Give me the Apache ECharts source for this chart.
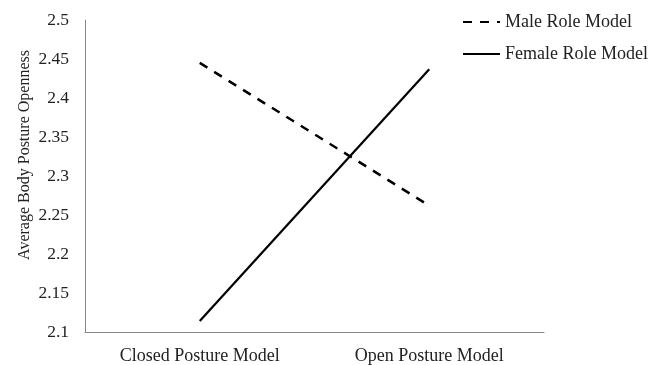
<!DOCTYPE html>
<html><head><meta charset="utf-8">
<script src="https://cdn.jsdelivr.net/npm/echarts@6/dist/echarts.min.js"></script>
<style>html,body{margin:0;padding:0;background:#fff}#c{width:660px;height:365px}</style>
</head><body><div id="c"></div>
<script>
const categories = ['Closed Posture Model', 'Open Posture Model'];
const maleValues = [2.445, 2.262];
const femaleValues = [2.114, 2.437];
const seriesNames = ['Male Role Model', 'Female Role Model'];
const yAxisName = 'Average Body Posture Openness';

const font = 'Liberation Serif, Times New Roman, serif';
const chart = echarts.init(document.getElementById('c'));
chart.setOption({
  animation: false,
  grid: { left: 85, right: 116, top: 20, bottom: 29 },
  legend: {
    orient: 'vertical', left: 457, top: 8, itemWidth: 37, itemHeight: 14, itemGap: 14,
    textStyle: { fontFamily: font, fontSize: 18, color: '#222' },
    itemStyle: { opacity: 0 },
    data: seriesNames
  },
  graphic: [{
    type: 'text', x: 25, y: 155, rotation: Math.PI / 2,
    style: { text: yAxisName, fontFamily: font, fontSize: 16, fill: '#222',
      align: 'center', verticalAlign: 'middle' }
  }],
  xAxis: {
    type: 'category', data: categories, boundaryGap: true,
    axisLine: { lineStyle: { color: '#888', width: 1 } },
    axisTick: { show: false },
    axisLabel: { fontFamily: font, fontSize: 18, color: '#222', margin: 15 }
  },
  yAxis: {
    type: 'value', min: 2.1, max: 2.5, interval: 0.05,
    axisLine: { show: true, lineStyle: { color: '#888', width: 1 } },
    axisTick: { show: false },
    splitLine: { show: false },
    axisLabel: { fontFamily: font, fontSize: 17.5, color: '#222', margin: 16,
      formatter: v => String(Math.round(v * 100) / 100) }
  },
  series: [
    { name: seriesNames[0], type: 'line', data: maleValues, symbol: 'none',
      lineStyle: { color: '#000', width: 2.5, type: [9, 8] }, itemStyle: { color: '#000' } },
    { name: seriesNames[1], type: 'line', data: femaleValues, symbol: 'none',
      lineStyle: { color: '#000', width: 2.2 }, itemStyle: { color: '#000' } }
  ]
});
</script></body></html>
